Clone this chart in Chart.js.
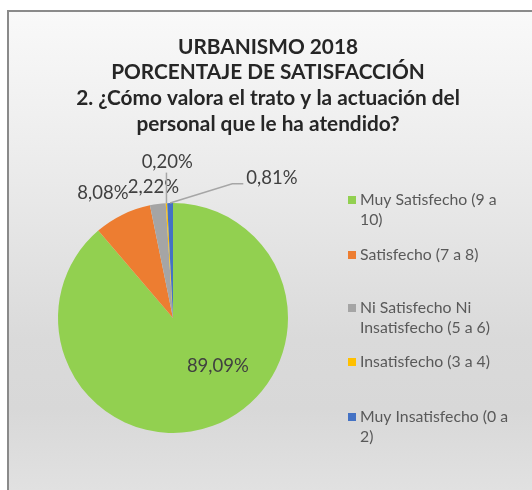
<!DOCTYPE html>
<html>
<head>
<meta charset="utf-8">
<script src="https://cdn.jsdelivr.net/npm/chart.js@4"></script>
<style>
  html, body { margin: 0; padding: 0; background: #ffffff; }
  body { width: 532px; height: 490px; overflow: hidden; position: relative; }
  .frame {
    position: absolute; left: 7px; top: 10px; width: 540px; height: 500px;
    border: 2px solid #8a8a8a; box-sizing: border-box;
    background: linear-gradient(to bottom, #f9f9f9 0%, #ebebeb 32%, #dadada 66%, #d8d8d8 80%, #e3e3e3 100%);
  }
  #chart { position: absolute; left: 0; top: 0; }
</style>
</head>
<body>
<div class="frame"></div>
<canvas id="chart" width="532" height="490"></canvas>
<script>
const titleLines = [
  'URBANISMO 2018',
  'PORCENTAJE DE SATISFACCIÓN',
  '2. ¿Cómo valora el trato y la actuación del',
  'personal que le ha atendido?'
]
const categories = [
  'Muy Satisfecho (9 a 10)',
  'Satisfecho (7 a 8)',
  'Ni Satisfecho Ni Insatisfecho (5 a 6)',
  'Insatisfecho (3 a 4)',
  'Muy Insatisfecho (0 a 2)'
]
// legend text as Excel wrapped it
const legendLines = [
  ['Muy Satisfecho (9 a', '10)'],
  ['Satisfecho (7 a 8)'],
  ['Ni Satisfecho Ni', 'Insatisfecho (5 a 6)'],
  ['Insatisfecho (3 a 4)'],
  ['Muy Insatisfecho (0 a', '2)']
]
const percentages = [89.09, 8.08, 2.22, 0.20, 0.81]
const percentLabels = ['89,09%', '8,08%', '2,22%', '0,20%', '0,81%']
const sliceColors = ['#92d050', '#ed7d31', '#a5a5a5', '#ffc000', '#4472c4']

const FONT = 'Lato, "Liberation Sans", sans-serif'

// label offsets in units of the radius, relative to the pie center
const labelPlacement = [
  { dx: 0.39, dy: 0.42 },
  { dx: -0.61, dy: -1.09 },
  { dx: -0.17, dy: -1.14 },
  { dx: -0.05, dy: -1.36, leader: 'vertical' },
  { dx: 0.86, dy: -1.22, leader: 'elbow' }
]

const chartTitle = {
  id: 'chartTitle',
  afterDraw(chart) {
    const ctx = chart.ctx
    const rows = [47, 72, 98, 124]
    ctx.save()
    ctx.font = 'bold 20.8px ' + FONT
    ctx.fillStyle = '#262626'
    ctx.textAlign = 'center'
    ctx.textBaseline = 'middle'
    titleLines.forEach((t, i) => ctx.fillText(t, 268, rows[i]))
    ctx.restore()
  }
}

const pieLabels = {
  id: 'pieLabels',
  afterDatasetsDraw(chart) {
    const ctx = chart.ctx
    const arcs = chart.getDatasetMeta(0).data
    ctx.save()
    ctx.font = '18.5px ' + FONT
    ctx.fillStyle = '#404040'
    ctx.textAlign = 'center'
    ctx.textBaseline = 'middle'
    arcs.forEach((arc, i) => {
      const p = labelPlacement[i]
      const r = arc.outerRadius
      const lx = arc.x + p.dx * r
      const ly = arc.y + p.dy * r
      const mid = (arc.startAngle + arc.endAngle) / 2
      const ex = arc.x + Math.cos(mid) * r
      const ey = arc.y + Math.sin(mid) * r
      if (p.leader) {
        ctx.strokeStyle = '#a6a6a6'
        ctx.lineWidth = 1.5
        ctx.beginPath()
        if (p.leader == 'vertical') {
          ctx.moveTo(ex, ly + 11)
          ctx.lineTo(ex, ey)
        } else {
          const w = ctx.measureText(percentLabels[i]).width
          ctx.moveTo(lx - w / 2 - 3, ly + 6)
          ctx.lineTo(lx - w / 2 - 14, ly + 6)
          ctx.lineTo(ex, ey)
        }
        ctx.stroke()
      }
      ctx.fillText(percentLabels[i], lx, ly)
    })
    ctx.restore()
  }
}

const sideLegend = {
  id: 'sideLegend',
  afterDraw(chart) {
    const ctx = chart.ctx
    const rows = [200, 255, 308, 362, 417]
    ctx.save()
    ctx.font = '15.8px ' + FONT
    ctx.textBaseline = 'middle'
    legendLines.forEach((lines, i) => {
      ctx.fillStyle = sliceColors[i]
      ctx.fillRect(348, rows[i] - 4, 8, 8)
      ctx.fillStyle = '#595959'
      lines.forEach((t, j) => ctx.fillText(t, 360, rows[i] + j * 20))
    })
    ctx.restore()
  }
}

new Chart(document.getElementById('chart'), {
  type: 'pie',
  data: {
    labels: categories,
    datasets: [{
      data: percentages,
      backgroundColor: sliceColors,
      borderWidth: 0
    }]
  },
  options: {
    responsive: false,
    animation: false,
    layout: { padding: { left: 58, right: 244, top: 203, bottom: 57 } },
    plugins: {
      legend: { display: false },
      tooltip: { enabled: false },
      title: { display: false }
    }
  },
  plugins: [chartTitle, pieLabels, sideLegend]
})
</script>
</body>
</html>
